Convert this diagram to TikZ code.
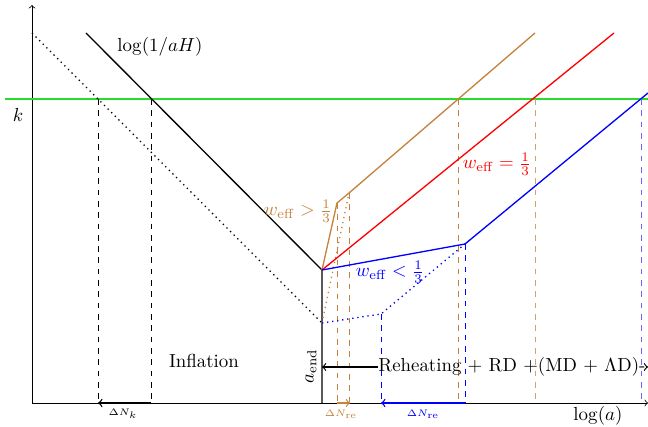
\documentclass[tikz,border=0pt]{standalone}
\usepackage{amsfonts,amsmath,amssymb}
\usepackage{xcolor}
\usetikzlibrary{arrows.meta}
\definecolor{brn}{RGB}{196,130,60}
\definecolor{grn}{RGB}{40,220,40}
\tikzset{curve/.style={line width=0.7pt},guide/.style={dashed,line width=0.5pt}}
\begin{document}
\begin{tikzpicture}[>=to,x=0.53pt,y=-0.53pt]
\useasboundingbox(0,0)rectangle(648,427);
% points
\coordinate(O)at(32,403);
\coordinate(ytop)at(32,5);
\coordinate(xend)at(648,403);
\coordinate(Hs)at(86,33);
\coordinate(Ds)at(32,33);
\coordinate(E)at(322,270);
\coordinate(Ed)at(322,323);
\coordinate(Eb)at(322,403);
\coordinate(B1)at(337,203);
\coordinate(B2)at(349,193);
\coordinate(B3)at(535,33);
\coordinate(R1)at(614,33);
\coordinate(L1)at(465,244);
\coordinate(L2)at(648,93);
\coordinate(Ld)at(381,314);
\coordinate(kl)at(5,99);
\coordinate(kr)at(648,99);
% axes
\draw[->](O)--(ytop);
\draw[->](O)--(xend);
\draw[grn,semithick](kl)--(kr);
\draw(kl)+(13,16)node{$k$};
\node(la)at(598,416){$\log(a)$};
% inflation
\draw[curve](Hs)--(E)--(Eb);
\draw[dotted,curve](Ds)--(Ed);
\node(lH)at(160,47){$\log(1/aH)$};
\node(inf)at(204,361){Inflation};
\node[rotate=90](aend)at(311,366){$a_{\rm end}$};
\draw[guide](98,99)--(98,403);
\draw[guide](151,99)--(151,403);
\draw[->,curve](151,403)--(98,403);
\node(dNk)at(123,414){\tiny$\Delta N_k$};
% w>1/3
\draw[brn,curve](E)--(B1)--(B2)--(B3);
\draw[brn,dotted,curve](Ed)--(B2);
\draw[brn,guide](B1)--(337,403);
\draw[brn,guide](B2)--(349,403);
\draw[brn,guide](458,99)--(458,403);
\draw[brn!75,guide](535,99)--(535,403);
\draw[brn,->,semithick](337,403)--(350,403);
\node[brn](wg)at(298,211){$w_{\rm eff}>\frac{1}{3}$};
\node[brn](dNb)at(341,414){\tiny$\Delta N_{\rm re}$};
% w=1/3
\draw[red,curve](E)--(R1);
\node[red](we)at(497,164){$w_{\rm eff}=\frac{1}{3}$};
% w<1/3
\draw[blue,curve](E)--(L1)--(L2);
\draw[blue,dotted,curve](Ed)--(Ld)--(L1);
\draw[blue,guide](Ld)--(381,403);
\draw[blue,guide](L1)--(465,403);
\draw[blue!60,guide](641,99)--(641,403);
\draw[blue,->,curve](465,403)--(381,403);
\node[blue](wl)at(390,272){$w_{\rm eff}<\frac{1}{3}$};
\node[blue](dNl)at(423,414){\tiny$\Delta N_{\rm re}$};
% reheating
\node[inner sep=0pt,anchor=west](reh)at(378,367){Reheating $+$ RD $+$(MD $+$ $\Lambda$D)-};
\draw[->,semithick](reh.west)--(322,367);
\draw[->,semithick](reh.east)--(648,367);
\end{tikzpicture}
\end{document}
